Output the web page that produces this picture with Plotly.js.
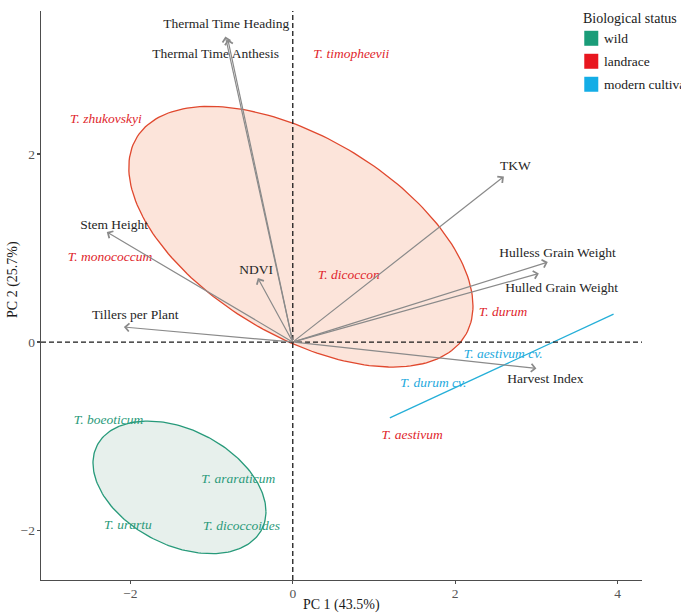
<!DOCTYPE html>
<html>
<head>
<meta charset="utf-8">
<script src="https://cdn.plot.ly/plotly-3.0.1.min.js"></script>
<style>
  html, body { margin: 0; padding: 0; background: #fff; }
  #chart { width: 681px; height: 614px; }
</style>
</head>
<body>
<div id="chart"></div>
<script>
// Species scores on PC 1 / PC 2
const species = ['T. timopheevii', 'T. zhukovskyi', 'T. monococcum', 'T. dicoccon', 'T. durum', 'T. aestivum',
                 'T. aestivum cv.', 'T. durum cv.',
                 'T. boeoticum', 'T. araraticum', 'T. urartu', 'T. dicoccoides'];
const speciesPC1 = [0.72, -2.30, -2.25, 0.69, 2.59, 1.47, 2.59, 1.73, -2.27, -0.67, -2.03, -0.63];
const speciesPC2 = [3.06, 2.37, 0.90, 0.71, 0.31, -0.99, -0.13, -0.44, -0.84, -1.46, -1.95, -1.96];
const speciesStatus = ['landrace', 'landrace', 'landrace', 'landrace', 'landrace', 'landrace',
                       'modern cultivar', 'modern cultivar',
                       'wild', 'wild', 'wild', 'wild'];

// Trait loadings (arrow tips) and where their names sit
const traits = ['Thermal Time Heading', 'Thermal Time Anthesis', 'Stem Height', 'Tillers per Plant', 'NDVI',
                'TKW', 'Hulless Grain Weight', 'Hulled Grain Weight', 'Harvest Index'];
const loadingPC1 = [-0.83, -0.80, -2.29, -2.08, -0.43, 2.60, 3.14, 3.03, 3.00];
const loadingPC2 = [3.25, 3.22, 1.17, 0.16, 0.68, 1.76, 0.85, 0.73, -0.28];
const traitLabelPC1 = [-0.82, -0.95, -2.20, -1.94, -0.45, 2.74, 3.26, 3.31, 3.11];
const traitLabelPC2 = [3.38, 3.06, 1.24, 0.28, 0.76, 1.86, 0.94, 0.57, -0.40];

// Group concentration ellipses: centre and covariance (xx, yy, xy)
const ellipseLandrace = { cx: 0.10, cy: 1.12, sxx: 4.49, syy: 1.92, sxy: -1.56 };
const ellipseWild = { cx: -1.395, cy: -1.545, sxx: 1.134, syy: 0.497, sxy: -0.275 };
// Modern cultivars: only two taxa, so the ellipse collapses to a segment
const modernSegPC1 = [1.195, 3.95];
const modernSegPC2 = [-0.807, 0.297];

const statusOrder = ['wild', 'landrace', 'modern cultivar'];
const statusKeyColor = { 'wild': '#1a9c78', 'landrace': '#e8171f', 'modern cultivar': '#14ade6' };
const statusTextColor = { 'wild': '#2a9a7a', 'landrace': '#e0262c', 'modern cultivar': '#23a9dd' };

const SERIF = 'Liberation Serif, Times New Roman, serif';

function ellipsePath(e) {
  // Cholesky factor of the covariance gives the parametric ellipse
  const a = Math.sqrt(e.sxx);
  const c = e.sxy / a;
  const d = Math.sqrt(e.syy - c * c);
  const xs = [], ys = [];
  for (let i = 0; i <= 200; i++) {
    const t = 2 * Math.PI * i / 200;
    xs.push(e.cx + a * Math.cos(t));
    ys.push(e.cy + c * Math.cos(t) + d * Math.sin(t));
  }
  return { xs, ys };
}

const traces = [];

const eL = ellipsePath(ellipseLandrace);
traces.push({
  x: eL.xs, y: eL.ys, type: 'scatter', mode: 'lines', fill: 'toself',
  fillcolor: 'rgba(242,120,70,0.2)', line: { color: '#e0482e', width: 1.3 },
  hoverinfo: 'skip', showlegend: false
});
const eW = ellipsePath(ellipseWild);
traces.push({
  x: eW.xs, y: eW.ys, type: 'scatter', mode: 'lines', fill: 'toself',
  fillcolor: 'rgba(60,130,100,0.12)', line: { color: '#279a7a', width: 1.3 },
  hoverinfo: 'skip', showlegend: false
});
traces.push({
  x: modernSegPC1, y: modernSegPC2, type: 'scatter', mode: 'lines',
  line: { color: '#25afd8', width: 1.3 }, hoverinfo: 'skip', showlegend: false
});

// Species names, coloured by biological status
statusOrder.forEach(st => {
  const idx = species.map((s, i) => i).filter(i => speciesStatus[i] === st);
  traces.push({
    x: idx.map(i => speciesPC1[i]),
    y: idx.map(i => speciesPC2[i]),
    text: idx.map(i => '<i>' + species[i] + '</i>'),
    type: 'scatter', mode: 'text', textposition: 'middle center',
    textfont: { family: SERIF, size: 13.5, color: statusTextColor[st] },
    hoverinfo: 'skip', showlegend: false
  });
});

// Trait names
traces.push({
  x: traitLabelPC1, y: traitLabelPC2, text: traits,
  type: 'scatter', mode: 'text', textposition: 'middle center',
  textfont: { family: SERIF, size: 13.5, color: '#262626' },
  hoverinfo: 'skip', showlegend: false
});

const annotations = [];
// Loading arrows from the origin
traits.forEach((t, i) => {
  annotations.push({
    x: loadingPC1[i], y: loadingPC2[i], ax: 0, ay: 0,
    xref: 'x', yref: 'y', axref: 'x', ayref: 'y',
    text: '', showarrow: true, arrowhead: 4, arrowsize: 1.3, arrowwidth: 1.2,
    arrowcolor: '#8a8a8a', standoff: 0, startstandoff: 0
  });
});

// Axis titles
annotations.push({
  xref: 'paper', yref: 'paper', x: 0.5, y: -0.044, text: 'PC 1 (43.5%)', showarrow: false,
  xanchor: 'center', yanchor: 'middle', font: { family: SERIF, size: 14, color: '#1a1a1a' }
});
annotations.push({
  xref: 'paper', yref: 'paper', x: -0.0466, y: 0.529, text: 'PC 2 (25.7%)', showarrow: false,
  textangle: -90, xanchor: 'center', yanchor: 'middle', font: { family: SERIF, size: 14, color: '#1a1a1a' }
});

// Legend, placed in paper units relative to the plotting area
const plotLeft = 41, plotRight = 641.7, plotTop = 10.7, plotBottom = 580;
const pw = plotRight - plotLeft, ph = plotBottom - plotTop;
const px = v => (v - plotLeft) / pw;
const py = v => (plotBottom - v) / ph;

annotations.push({
  xref: 'paper', yref: 'paper', x: px(581), y: py(18), text: 'Biological status', showarrow: false,
  xanchor: 'left', yanchor: 'middle', font: { family: SERIF, size: 14, color: '#1a1a1a' }
});

const shapes = [
  // reference lines through the origin
  { type: 'line', xref: 'x', yref: 'paper', x0: 0, x1: 0, y0: 0, y1: 1,
    line: { color: '#1a1a1a', width: 1.3, dash: '5px,3px' }, layer: 'above' },
  { type: 'line', xref: 'paper', yref: 'y', x0: 0, x1: 1, y0: 0, y1: 0,
    line: { color: '#1a1a1a', width: 1.3, dash: '5px,3px' }, layer: 'above' }
];

statusOrder.forEach((st, k) => {
  const cy = 38 + 23 * k;
  shapes.push({
    type: 'rect', xref: 'paper', yref: 'paper',
    x0: px(584), x1: px(598), y0: py(cy + 7.5), y1: py(cy - 7.5),
    fillcolor: statusKeyColor[st], line: { width: 0 }, layer: 'above'
  });
  annotations.push({
    xref: 'paper', yref: 'paper', x: px(601.5), y: py(cy), text: st, showarrow: false,
    xanchor: 'left', yanchor: 'middle', font: { family: SERIF, size: 13.5, color: '#1a1a1a' }
  });
});

const axisCommon = {
  showgrid: false, zeroline: false, showline: true, linecolor: '#4d4d4d', linewidth: 1.4,
  ticks: 'outside', ticklen: 3, tickwidth: 1.2, tickcolor: '#4d4d4d',
  tickfont: { family: SERIF, size: 13.5, color: '#555555' }, mirror: false
};

const layout = {
  width: 681, height: 614,
  margin: { l: plotLeft, r: 681 - plotRight, t: plotTop, b: 614 - plotBottom, pad: 0 },
  paper_bgcolor: '#ffffff', plot_bgcolor: '#ffffff',
  showlegend: false,
  xaxis: Object.assign({}, axisCommon, { range: [-3.10, 4.30], tickvals: [-2, 0, 2, 4], ticklabelstandoff: -3 }),
  yaxis: Object.assign({}, axisCommon, { range: [-2.53, 3.52], tickvals: [-2, 0, 2], ticklabelstandoff: -1 }),
  annotations: annotations,
  shapes: shapes
};

Plotly.newPlot('chart', traces, layout, { displayModeBar: false, staticPlot: true });
</script>
</body>
</html>
